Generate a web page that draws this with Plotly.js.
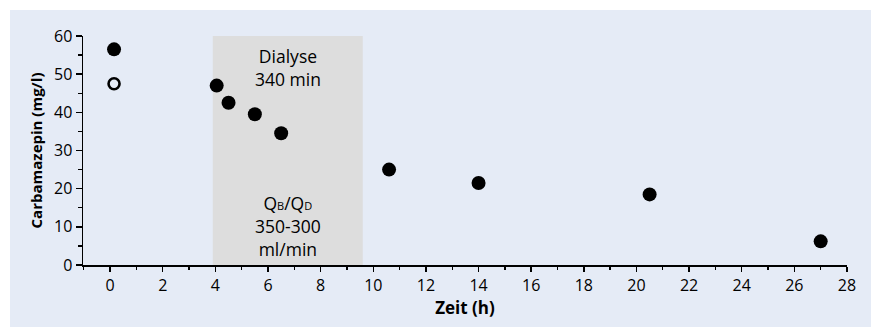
<!DOCTYPE html>
<html>
<head>
<meta charset="utf-8">
<script src="https://cdn.plot.ly/plotly-3.0.1.min.js"></script>
<style>
html,body{margin:0;padding:0;background:#ffffff;}
#chart{position:absolute;left:10px;top:10px;width:861px;height:317px;}
</style>
</head>
<body>
<div id="chart"></div>
<script>
// Data
const timeFilled = [0.15, 4.05, 4.5, 5.5, 6.5, 10.6, 14.0, 20.5, 27.0];
const concFilled = [56.5, 47.0, 42.5, 39.5, 34.5, 25.0, 21.5, 18.5, 6.2];
const timeOpen = [0.15];
const concOpen = [47.5];
const dialysisStart = 3.9;
const dialysisEnd = 9.6;
const xTickVals = [0, 2, 4, 6, 8, 10, 12, 14, 16, 18, 20, 22, 24, 26, 28];
const yTickVals = [0, 10, 20, 30, 40, 50, 60];
const labelDialyse = "Dialyse<br>340 min";
const labelFlow = "Q<span style='font-size:11px'>B</span>/Q<span style='font-size:11px'>D</span><br>350-300<br>ml/min";

const font = "'Open Sans', 'Noto Sans', sans-serif";
const bg = "#e5ebf6";

const traces = [
  {
    x: timeFilled, y: concFilled, type: "scatter", mode: "markers",
    marker: {color: "#000000", size: 14, symbol: "circle"},
    cliponaxis: false, showlegend: false, hoverinfo: "x+y"
  },
  {
    x: timeOpen, y: concOpen, type: "scatter", mode: "markers",
    marker: {color: "#000000", size: 11, symbol: "circle-open", line: {width: 2.6, color: "#000000"}},
    cliponaxis: false, showlegend: false, hoverinfo: "x+y"
  }
];

const layout = {
  width: 861, height: 317,
  paper_bgcolor: bg, plot_bgcolor: bg,
  margin: {l: 73, r: 24, t: 26, b: 62},
  font: {family: font, color: "#000000", size: 16},
  showlegend: false,
  xaxis: {
    range: [-1.03, 28],
    tickvals: xTickVals,
    ticks: "outside", ticklen: 5, tickwidth: 1.5, tickcolor: "#000",
    minor: {dtick: 1, tick0: 0, ticks: "outside", ticklen: 3, tickwidth: 1.3, tickcolor: "#000", showgrid: false},
    showline: true, linecolor: "#000", linewidth: 1.5,
    showgrid: false, zeroline: false,
    tickfont: {size: 16, family: font},
    title: {text: "<b>Zeit (h)</b>", font: {size: 17, family: font}, standoff: 1}
  },
  yaxis: {
    range: [0, 60],
    tickvals: yTickVals,
    ticks: "outside", ticklen: 6, tickwidth: 1.5, tickcolor: "#000",
    minor: {dtick: 5, tick0: 0, ticks: "outside", ticklen: 4, tickwidth: 1.3, tickcolor: "#000", showgrid: false},
    showline: true, linecolor: "#000", linewidth: 1.5,
    showgrid: false, zeroline: false,
    tickfont: {size: 16, family: font},
    title: {text: "<b>Carbamazepin (mg/l)</b>", font: {size: 15, family: font}, standoff: 8}
  },
  shapes: [
    {type: "rect", xref: "x", yref: "y", x0: dialysisStart, x1: dialysisEnd, y0: 0, y1: 60,
     fillcolor: "#dddddd", line: {width: 0}, layer: "below"}
  ],
  annotations: [
    {x: (dialysisStart + dialysisEnd) / 2, y: 58.5, xref: "x", yref: "y", text: labelDialyse,
     showarrow: false, yanchor: "top", align: "center", font: {size: 17.5, family: font}},
    {x: (dialysisStart + dialysisEnd) / 2, y: 0.5, xref: "x", yref: "y", text: labelFlow,
     showarrow: false, yanchor: "bottom", align: "center", font: {size: 17.5, family: font}}
  ]
};

Plotly.newPlot("chart", traces, layout, {displayModeBar: false, staticPlot: true});
</script>
</body>
</html>
